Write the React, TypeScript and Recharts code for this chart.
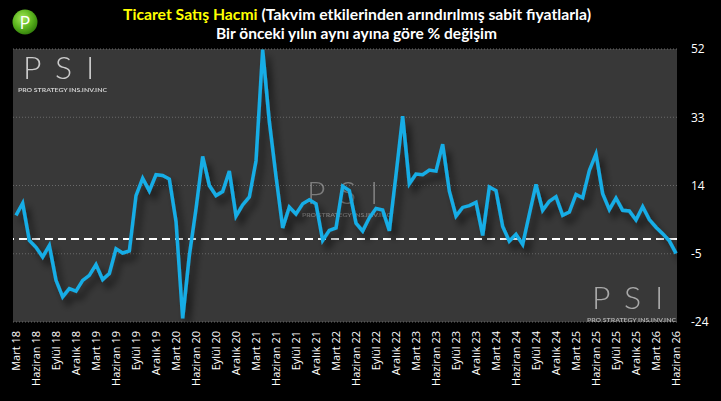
import React from 'react';
import { LineChart, Line, XAxis, YAxis, CartesianGrid, ReferenceLine } from 'recharts';

const monthNames = ['Ocak', 'Şubat', 'Mart', 'Nisan', 'Mayıs', 'Haziran', 'Temmuz', 'Ağustos', 'Eylül', 'Ekim', 'Kasım', 'Aralık'];
const startYear = 2018;
const startMonthIndex = 2; // Mart

const values = [
  5.7, 9.1, -1.3, -3.2, -5.9, -2.7, -12.4, -17.0, -14.7, -15.4,
  -12.4, -11.0, -8.0, -12.2, -10.5, -3.6, -4.8, -4.2, 11.2, 16.0,
  12.5, 17.0, 16.8, 15.8, 4.0, -23.0, -5.5, 7.5, 22.1, 14.0,
  11.2, 12.3, 18.0, 5.5, 8.6, 10.8, 20.9, 51.8, 31.8, 16.5,
  2.2, 8.0, 6.1, 8.9, 10.0, 8.9, -1.3, 1.5, 2.2, 13.8,
  12.6, 3.5, 1.3, 5.0, 7.6, 7.2, 1.4, 17.0, 33.3, 14.5,
  17.2, 17.0, 18.3, 18.0, 25.5, 12.4, 5.5, 7.9, 8.4, 9.3,
  0.1, 13.6, 12.6, 2.6, -1.5, 0.4, -2.4, 6.0, 14.3, 7.1,
  9.6, 10.9, 5.7, 6.6, 11.5, 10.6, 18.2, 22.8, 11.7, 7.3,
  10.5, 7.1, 6.9, 4.4, 8.1, 4.5, 2.4, 0.6, -1.4, -4.9,
];

const categories = values.map((_, i) => {
  const m = (startMonthIndex + i) % 12;
  const y = startYear + Math.floor((startMonthIndex + i) / 12);
  return `${monthNames[m]} ${String(y).slice(2)}`;
});

const yTicks = [52, 33, 14, -5, -24];
const yDomain = [-24, 52];
const referenceValue = -0.9;

const titleMain = 'Ticaret Satış Hacmi';
const titleRest = ' (Takvim etkilerinden arındırılmış sabit fiyatlarla)';
const subtitle = 'Bir önceki yılın aynı ayına göre % değişim';
const watermarkSub = 'PRO STRATEGY INS.INV.INC';

const data = categories.map((c, i) => ({ month: c, v: values[i] }));

const XTick = (props: any) => {
  const { x, y, payload } = props;
  return (
    <text
      x={x}
      y={y}
      dy={4}
      transform={`rotate(-90 ${x} ${y})`}
      textAnchor="end"
      fill="#ffffff"
      fontSize={11}
      fontFamily="'Open Sans', 'Noto Sans', sans-serif"
    >
      {payload.value}
    </text>
  );
};

const Watermark = ({ x0, base, color, opacity }: { x0: number; base: number; color: string; opacity: number }) => (
  <g opacity={opacity} fill={color} fontFamily="Lato, 'DejaVu Sans', sans-serif" fontWeight={300}>
    <text x={x0 - 2} y={base - 3} fontSize={32}>P</text>
    <text x={x0 + 30} y={base - 3} fontSize={32}>S</text>
    <text x={x0 + 61} y={base - 3} fontSize={32}>I</text>
    <text x={x0 - 7} y={base + 9.5} fontSize={5} fontWeight={700} textLength={89} lengthAdjust="spacingAndGlyphs">
      {watermarkSub}
    </text>
  </g>
);

export default function App() {
  return (
    <div style={{ position: 'absolute', left: 0, top: 0, width: 721, height: 401, background: '#000', overflow: 'hidden' }}>
      <svg width={721} height={48} style={{ position: 'absolute', left: 0, top: 0 }}>
        <defs>
          <radialGradient id="logoGrad" cx="40%" cy="35%" r="70%">
            <stop offset="0%" stopColor="#a6e85a" />
            <stop offset="55%" stopColor="#5cb51e" />
            <stop offset="100%" stopColor="#2f7a0a" />
          </radialGradient>
        </defs>
        <circle cx={25} cy={22} r={12.5} fill="url(#logoGrad)" />
        <text x={25} y={28.5} textAnchor="middle" fill="#ffffff" fontSize={18} fontFamily="'Open Sans', sans-serif">P</text>
        <text
          x={123}
          y={20}
          fontSize={15}
          fontWeight={700}
          fontFamily="Lato, 'Open Sans', sans-serif"
          textLength={468}
          lengthAdjust="spacingAndGlyphs"
        >
          <tspan fill="#ffff00">{titleMain}</tspan>
          <tspan fill="#ffffff">{titleRest}</tspan>
        </text>
        <text
          x={216}
          y={39}
          fontSize={15}
          fontWeight={700}
          fill="#ffffff"
          fontFamily="Lato, 'Open Sans', sans-serif"
          textLength={281}
          lengthAdjust="spacingAndGlyphs"
        >
          {subtitle}
        </text>
      </svg>
      <div style={{ position: 'absolute', left: 0, top: 0 }}>
        <LineChart width={721} height={401} data={data} margin={{ top: 49, right: 4, bottom: 9, left: 13 }}>
          <defs>
            <filter id="lineShadow" x="-5%" y="-10%" width="115%" height="125%">
              <feDropShadow dx={5} dy={7} stdDeviation={3.5} floodColor="#000000" floodOpacity={0.6} />
            </filter>
          </defs>
          <CartesianGrid vertical={false} stroke="#6a6a6a" strokeDasharray="1 2" fill="#383838" fillOpacity={1} />
          <XAxis
            dataKey="month"
            interval={2}
            tick={<XTick />}
            tickLine={false}
            axisLine={false}
            tickSize={0}
            tickMargin={9}
            height={70}
            padding={{ left: 3, right: 1 }}
          />
          <YAxis
            orientation="right"
            width={40}
            domain={yDomain}
            ticks={yTicks}
            allowDataOverflow
            tickLine={false}
            axisLine={false}
            tickSize={6}
            tickMargin={8}
            tick={{ fill: '#ffffff', fontSize: 12, fontFamily: "'Open Sans', sans-serif" }}
          />
          <Watermark x0={25} base={82} color="#dcdcdc" opacity={0.9} />
          <Watermark x0={309} base={207} color="#cfcfcf" opacity={0.45} />
          <Watermark x0={594} base={312} color="#cfcfcf" opacity={0.75} />
          <ReferenceLine y={referenceValue} stroke="#ffffff" strokeWidth={2} strokeDasharray="8 5" />
          <Line
            type="linear"
            dataKey="v"
            stroke="#17ade6"
            strokeWidth={3.5}
            dot={false}
            activeDot={false}
            isAnimationActive={false}
            filter="url(#lineShadow)"
          />
        </LineChart>
      </div>
    </div>
  );
}
